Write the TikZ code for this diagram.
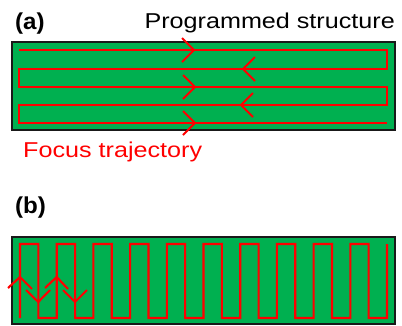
\documentclass[tikz,border=0pt]{standalone}
\usepackage{fontspec}
\setmainfont{Liberation Sans}
\definecolor{pgreen}{HTML}{00B050}
\definecolor{pred}{HTML}{FF0000}
\begin{document}
\begin{tikzpicture}[x=1pt,y=-1pt,
  sample/.style={draw=black!90,line width=1.6pt,fill=pgreen},
  traj/.style={draw=pred,line width=2.1pt,line join=miter},
  chev/.style={draw=pred,line width=2.1pt},
  lbl/.style={inner sep=0pt,font=\fontsize{21.5}{25}\selectfont},
  panel/.style={inner sep=0pt,font=\fontsize{23}{27}\selectfont\bfseries}]
\useasboundingbox (0,0) rectangle (402,325);
% panel (a)
\path[sample] (12,42) rectangle (395,130);
\draw[traj] (19,50) -- (387,50) -- (387,69) -- (19,69) -- (19,87) -- (387,87)
  -- (387,105) -- (19,105) -- (19,123) -- (387,123);
\draw[chev] (182,38) -- (194,50) -- (182,62);
\draw[chev] (255,57) -- (243,69) -- (255,81);
\draw[chev] (183,75) -- (195,87) -- (183,99);
\draw[chev] (253,93) -- (241,105) -- (253,117);
\draw[chev] (183,111) -- (195,123) -- (183,135);
\node[panel,anchor=base west] (la) at (15,29) {\scalebox{1.05}[1]{(a)}};
\node[lbl,anchor=base east] (ps) at (395,28) {\scalebox{1.17}[1]{Programmed structure}};
\node[lbl,anchor=base west,text=pred] (ft) at (23,157) {\scalebox{1.17}[1]{Focus trajectory}};
% panel (b)
\node[panel,anchor=base west] (lb) at (15,213) {\scalebox{1.05}[1]{(b)}};
\path[sample] (12,237) rectangle (395,324);
\draw[traj] (20,318) foreach \i in {0,...,9} {
   -- ({20+36.7*\i},244) -- ({38.35+36.7*\i},244) -- ({38.35+36.7*\i},318) -- ({56.7+36.7*\i},318)
  } -- (387,244);
\draw[chev] (8,288) -- (20,277) -- (32,289);
\draw[chev] (26,290) -- (38.3,302) -- (50,290);
\draw[chev] (45,288) -- (56.7,277) -- (68,289);
\draw[chev] (63,290) -- (75,302) -- (87,290);
\end{tikzpicture}
\end{document}
